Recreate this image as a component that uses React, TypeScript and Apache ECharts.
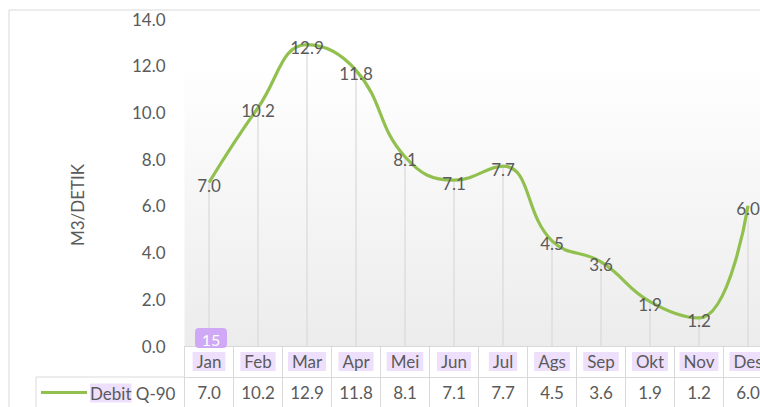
import React, { useEffect, useRef } from "react";
import * as echarts from "echarts";

const months = ["Jan", "Feb", "Mar", "Apr", "Mei", "Jun", "Jul", "Ags", "Sep", "Okt", "Nov", "Des"];
const debitQ90 = [7.0, 10.2, 12.9, 11.8, 8.1, 7.1, 7.7, 4.5, 3.6, 1.9, 1.2, 6.0];
const yTicks = { min: 0, max: 14, interval: 2 };
const seriesName = "Debit Q-90";
const axisTitle = "M3/DETIK";

const FONT = "Lato, 'Open Sans', sans-serif";
const TXT = "#5a5a5a";
const GRIDLINE = "#d9d9d9";
const GREEN = "#92c04f";

export default function App() {
  const ref = useRef<HTMLDivElement>(null);
  useEffect(() => {
    if (!ref.current) return;
    const chart = echarts.init(ref.current, undefined, { renderer: "svg" });
    const gl = 184.5;
    const gw = 588;
    const gt = 19;
    const gh = 327;
    const base = gt + gh;
    const row = 31;
    chart.setOption({
      animation: false,
      textStyle: { fontFamily: FONT },
      grid: {
        left: gl,
        top: gt,
        width: gw,
        height: gh,
        show: true,
        borderWidth: 0,
        backgroundColor: new echarts.graphic.LinearGradient(0, 0, 0, 1, [
          { offset: 0, color: "#ffffff" },
          { offset: 0.12, color: "#ffffff" },
          { offset: 1, color: "#ececec" },
        ]),
      },
      xAxis: [
        {
          type: "category",
          data: months,
          position: "bottom",
          boundaryGap: true,
          axisLine: { show: true, lineStyle: { color: GRIDLINE, width: 1 } },
          axisTick: { show: true, length: row, interval: 0, lineStyle: { color: GRIDLINE } },
          axisLabel: {
            interval: 0,
            margin: 6,
            color: TXT,
            fontSize: 17,
            fontFamily: FONT,
            backgroundColor: "#eee0fc",
            padding: [1, 4, 1, 4],
          },
        },
        {
          type: "category",
          data: debitQ90.map((v) => v.toFixed(1)),
          position: "bottom",
          offset: row,
          boundaryGap: true,
          axisLine: { show: true, lineStyle: { color: GRIDLINE, width: 1 } },
          axisTick: { show: true, length: row, interval: 0, lineStyle: { color: GRIDLINE } },
          axisLabel: { interval: 0, margin: 7, color: TXT, fontSize: 17, fontFamily: FONT },
        },
      ],
      yAxis: {
        type: "value",
        min: yTicks.min,
        max: yTicks.max,
        interval: yTicks.interval,
        axisLine: { show: false },
        axisTick: { show: false },
        splitLine: { show: false },
        axisLabel: {
          margin: 19,
          color: TXT,
          fontSize: 17,
          fontFamily: FONT,
          formatter: (v: number) => v.toFixed(1),
        },
      },
      series: [
        {
          type: "bar",
          xAxisIndex: 0,
          data: debitQ90,
          barWidth: 1.2,
          itemStyle: { color: GRIDLINE },
          silent: true,
          z: 1,
        },
        {
          name: seriesName,
          type: "line",
          xAxisIndex: 0,
          data: debitQ90,
          smooth: 0.45,
          symbol: "circle",
          symbolSize: 1,
          itemStyle: { color: "rgba(0,0,0,0)" },
          lineStyle: { color: GREEN, width: 3.2 },
          label: {
            show: true,
            position: "inside",
            offset: [0, 3],
            color: TXT,
            fontSize: 17,
            fontFamily: FONT,
            formatter: (p: any) => Number(p.value).toFixed(1),
          },
          z: 3,
        },
      ],
      graphic: [
        {
          type: "rect",
          shape: { x: 9, y: 10, width: 800, height: 500 },
          style: { fill: "none", stroke: "#d9d9d9", lineWidth: 1 },
          z: -10,
          silent: true,
        },
        {
          type: "text",
          x: 77,
          y: 205,
          rotation: Math.PI / 2,
          style: {
            text: axisTitle,
            fill: TXT,
            font: `17px ${FONT}`,
            align: "center",
            verticalAlign: "middle",
          },
          silent: true,
        },
        {
          type: "line",
          shape: { x1: 36, y1: base + row, x2: gl, y2: base + row },
          style: { stroke: GRIDLINE, lineWidth: 1 },
          silent: true,
        },
        {
          type: "line",
          shape: { x1: 36, y1: base + row, x2: 36, y2: base + 2 * row },
          style: { stroke: GRIDLINE, lineWidth: 1 },
          silent: true,
        },
        {
          type: "line",
          shape: { x1: 41, y1: base + row + 15.5, x2: 87, y2: base + row + 15.5 },
          style: { stroke: GREEN, lineWidth: 3.2 },
          silent: true,
        },
        {
          type: "text",
          x: 90,
          y: base + row + 16,
          style: {
            text: "{h|Debit} Q-90",
            fill: TXT,
            font: `17px ${FONT}`,
            verticalAlign: "middle",
            rich: {
              h: { backgroundColor: "#eee0fc", fontSize: 17, fontFamily: FONT, color: TXT, padding: [1, 0, 1, 0] },
            },
          },
          silent: true,
        },
        {
          type: "rect",
          shape: { x: 195, y: 328, width: 32, height: 20, r: 4 },
          style: { fill: "#cfa9f6" },
          z: 50,
          silent: true,
        },
        {
          type: "text",
          x: 211,
          y: 339,
          style: {
            text: "15",
            fill: "#ffffff",
            font: `16px ${FONT}`,
            align: "center",
            verticalAlign: "middle",
          },
          z: 51,
          silent: true,
        },
      ],
    });
    return () => chart.dispose();
  }, []);
  return (
    <div style={{ position: "fixed", left: 0, top: 0, width: 760, height: 407, overflow: "hidden", background: "#fff" }}>
      <div ref={ref} style={{ width: 800, height: 407 }} />
    </div>
  );
}
